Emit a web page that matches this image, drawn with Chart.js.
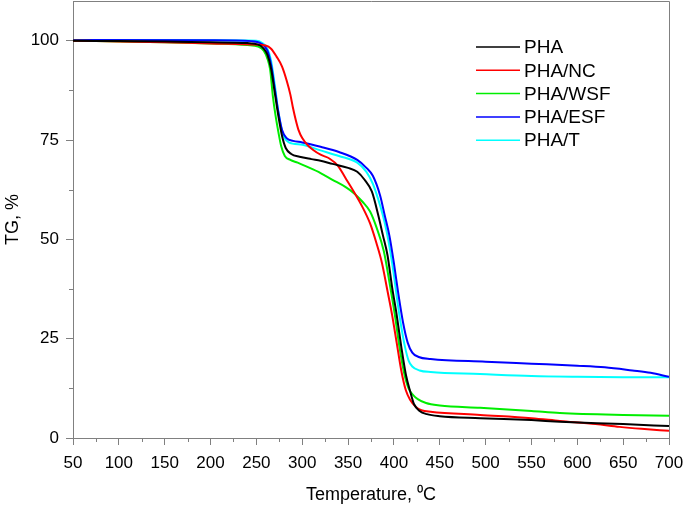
<!DOCTYPE html>
<html>
<head>
<meta charset="utf-8">
<script src="https://cdn.jsdelivr.net/npm/chart.js@4.4.0/dist/chart.umd.min.js"></script>
<style>
  html, body { margin: 0; padding: 0; background: #fff; }
  #wrap { width: 685px; height: 510px; }
</style>
</head>
<body>
<div id="wrap"><canvas id="tg"></canvas></div>
<script>
// TG curves (temperature in degC, mass in %)
const phaT  = [50, 100, 150, 200, 240, 252, 258, 262, 266, 270, 274, 278, 282, 288, 297, 310, 320, 333, 350, 360, 368, 376, 383, 388, 393, 398, 403, 408, 413, 418, 422, 428, 436, 450, 494, 550, 581, 650, 700];
const phaTG = [100, 99.9, 99.8, 99.6, 99.4, 99, 98, 96.5, 93, 87, 81, 76, 73, 71.5, 70.8, 70.2, 69.8, 69, 68, 67, 65, 62, 56, 51, 46, 38, 31, 23, 16, 11.5, 8.5, 6.8, 6, 5.5, 5, 4.5, 4.1, 3.5, 3];

const ncT  = [50, 100, 150, 200, 250, 260, 266, 272, 278, 283, 287, 290, 293, 296, 300, 306, 312, 320, 330, 339, 347, 355, 366, 374, 381, 387, 393, 398, 403, 408, 413, 418, 424, 430, 440, 494, 550, 581, 620, 646, 670, 700];
const ncTG = [100, 99.8, 99.6, 99.3, 99, 98.8, 98, 96, 93.5, 90, 86.5, 83, 80, 77.5, 75.5, 73.7, 72.5, 71.3, 70.3, 68.5, 65.5, 62.5, 58, 54, 49, 44, 37, 31, 24, 17, 12, 9.5, 7.8, 7, 6.6, 5.8, 5, 4.3, 3.5, 2.8, 2.3, 1.8];

const wsfT  = [50, 100, 150, 200, 240, 252, 258, 262, 265, 268, 271, 274, 277, 281, 287, 295, 305, 320, 333, 347, 357, 366, 374, 381, 389, 396, 401, 406, 411, 416, 421, 426, 435, 450, 494, 550, 581, 650, 700];
const wsfTG = [100, 99.8, 99.6, 99.3, 98.9, 98.5, 97.5, 95.5, 92.7, 86, 81, 77, 73.5, 71, 70, 69.3, 68.3, 66.7, 65, 63.2, 61.5, 59.4, 57, 53, 47, 38, 31, 23, 16.5, 12.5, 10.8, 9.8, 8.8, 8.2, 7.6, 6.8, 6.3, 5.8, 5.6];

const esfT  = [50, 200, 245, 255, 262, 266, 270, 274, 278, 283, 290, 300, 320, 340, 360, 370, 377, 385, 390, 395, 400, 405, 410, 415, 420, 427, 440, 500, 550, 600, 630, 660, 680, 700];
const esfTG = [100.2, 100.1, 99.9, 99.3, 97.5, 94, 88, 82, 77.5, 75.5, 74.8, 74.4, 73.3, 72, 70, 68, 66, 61, 56, 51, 44, 36, 29, 24, 21.5, 20.4, 19.9, 19.2, 18.7, 18.2, 17.8, 17, 16.4, 15.4];

const tT  = [50, 200, 250, 256, 262, 266, 270, 274, 279, 285, 300, 320, 340, 360, 370, 377, 383, 388, 392, 396, 400, 404, 408, 412, 416, 420, 428, 440, 494, 550, 600, 650, 700];
const tTG = [100.2, 100.1, 100, 99.5, 98, 95, 89, 82, 76.5, 74.5, 73.8, 72.4, 71, 69.3, 67, 64, 60, 56, 52, 47, 41, 34, 28, 23, 19.5, 18, 17, 16.6, 16.1, 15.6, 15.4, 15.3, 15.3];

const seriesNames  = ['PHA', 'PHA/NC', 'PHA/WSF', 'PHA/ESF', 'PHA/T'];
const seriesColors = ['#000000', '#ff0000', '#00ee00', '#0000ff', '#00ffff'];
const seriesT  = [phaT, ncT, wsfT, esfT, tT];
const seriesTG = [phaTG, ncTG, wsfTG, esfTG, tTG];

const xTicks = [50, 100, 150, 200, 250, 300, 350, 400, 450, 500, 550, 600, 650, 700];
const yTicks = [0, 25, 50, 75, 100];

const axisGray = '#808080';
const font = 'Arial, "Liberation Sans", sans-serif';

// minor ticks + top/right frame
const frameAndMinor = {
  id: 'frameAndMinor',
  afterDraw(chart) {
    const { ctx, chartArea: a, scales } = chart;
    ctx.save();
    ctx.strokeStyle = axisGray;
    ctx.lineWidth = 1;
    ctx.beginPath();
    ctx.moveTo(a.left, a.top + 0.5);
    ctx.lineTo(a.right + 0.5, a.top + 0.5);
    ctx.lineTo(a.right + 0.5, a.bottom);
    for (let i = 0; i < xTicks.length - 1; i++) {
      const px = Math.round(scales.x.getPixelForValue((xTicks[i] + xTicks[i + 1]) / 2)) + 0.5;
      ctx.moveTo(px, a.bottom);
      ctx.lineTo(px, a.bottom + 4);
    }
    for (let i = 0; i < yTicks.length; i++) {
      const py = Math.round(scales.y.getPixelForValue(yTicks[i] + 12.5)) + 0.5;
      if (py < a.top) continue;
      ctx.moveTo(a.left, py);
      ctx.lineTo(a.left - 4, py);
    }
    ctx.stroke();
    ctx.restore();
  }
};

// legend drawn inside the plot, lines then labels
const innerLegend = {
  id: 'innerLegend',
  afterDraw(chart) {
    const { ctx } = chart;
    ctx.save();
    ctx.font = '19px ' + font;
    ctx.textBaseline = 'middle';
    seriesNames.forEach((name, i) => {
      const y = 47 + i * 23.3;
      ctx.strokeStyle = seriesColors[i];
      ctx.lineWidth = 1.5;
      ctx.beginPath();
      ctx.moveTo(476, y);
      ctx.lineTo(520, y);
      ctx.stroke();
      ctx.fillStyle = '#000';
      ctx.fillText(name, 524, y + 1);
    });
    ctx.restore();
  }
};

new Chart(document.getElementById('tg'), {
  type: 'line',
  data: {
    datasets: seriesNames.map((name, i) => ({
      label: name,
      data: seriesT[i].map((t, k) => ({ x: t, y: seriesTG[i][k] })),
      borderColor: seriesColors[i],
      borderWidth: 2,
      pointRadius: 0,
      cubicInterpolationMode: 'monotone',
      fill: false
    }))
  },
  options: {
    responsive: true,
    maintainAspectRatio: false,
    animation: false,
    layout: { padding: { top: 1, right: 16, bottom: 0, left: 0 } },
    plugins: { legend: { display: false }, tooltip: { enabled: false } },
    scales: {
      x: {
        type: 'linear',
        min: 50,
        max: 700,
        afterFit: s => { s.height = 72; s.paddingLeft = 0; s.paddingRight = 0; },
        afterBuildTicks: s => { s.ticks = xTicks.map(v => ({ value: v })); },
        ticks: { color: '#000', padding: 8, maxRotation: 0, font: { size: 17, family: font } },
        grid: { drawOnChartArea: false, tickLength: 7, color: axisGray },
        border: { color: axisGray },
        title: { display: true, text: 'Temperature, \u2070C', color: '#000', font: { size: 18, family: font }, padding: { top: 4, bottom: 4 } }
      },
      y: {
        min: 0,
        max: 110,
        afterFit: s => { s.width = 73; s.paddingTop = 0; s.paddingBottom = 0; },
        afterBuildTicks: s => { s.ticks = yTicks.map(v => ({ value: v })); },
        ticks: { color: '#000', padding: 7, font: { size: 17, family: font } },
        grid: { drawOnChartArea: false, tickLength: 7, color: axisGray },
        border: { color: axisGray },
        title: { display: true, text: 'TG, %', color: '#000', font: { size: 18, family: font }, padding: { top: 2, bottom: 4 } }
      }
    }
  },
  plugins: [frameAndMinor, innerLegend]
});
</script>
</body>
</html>
